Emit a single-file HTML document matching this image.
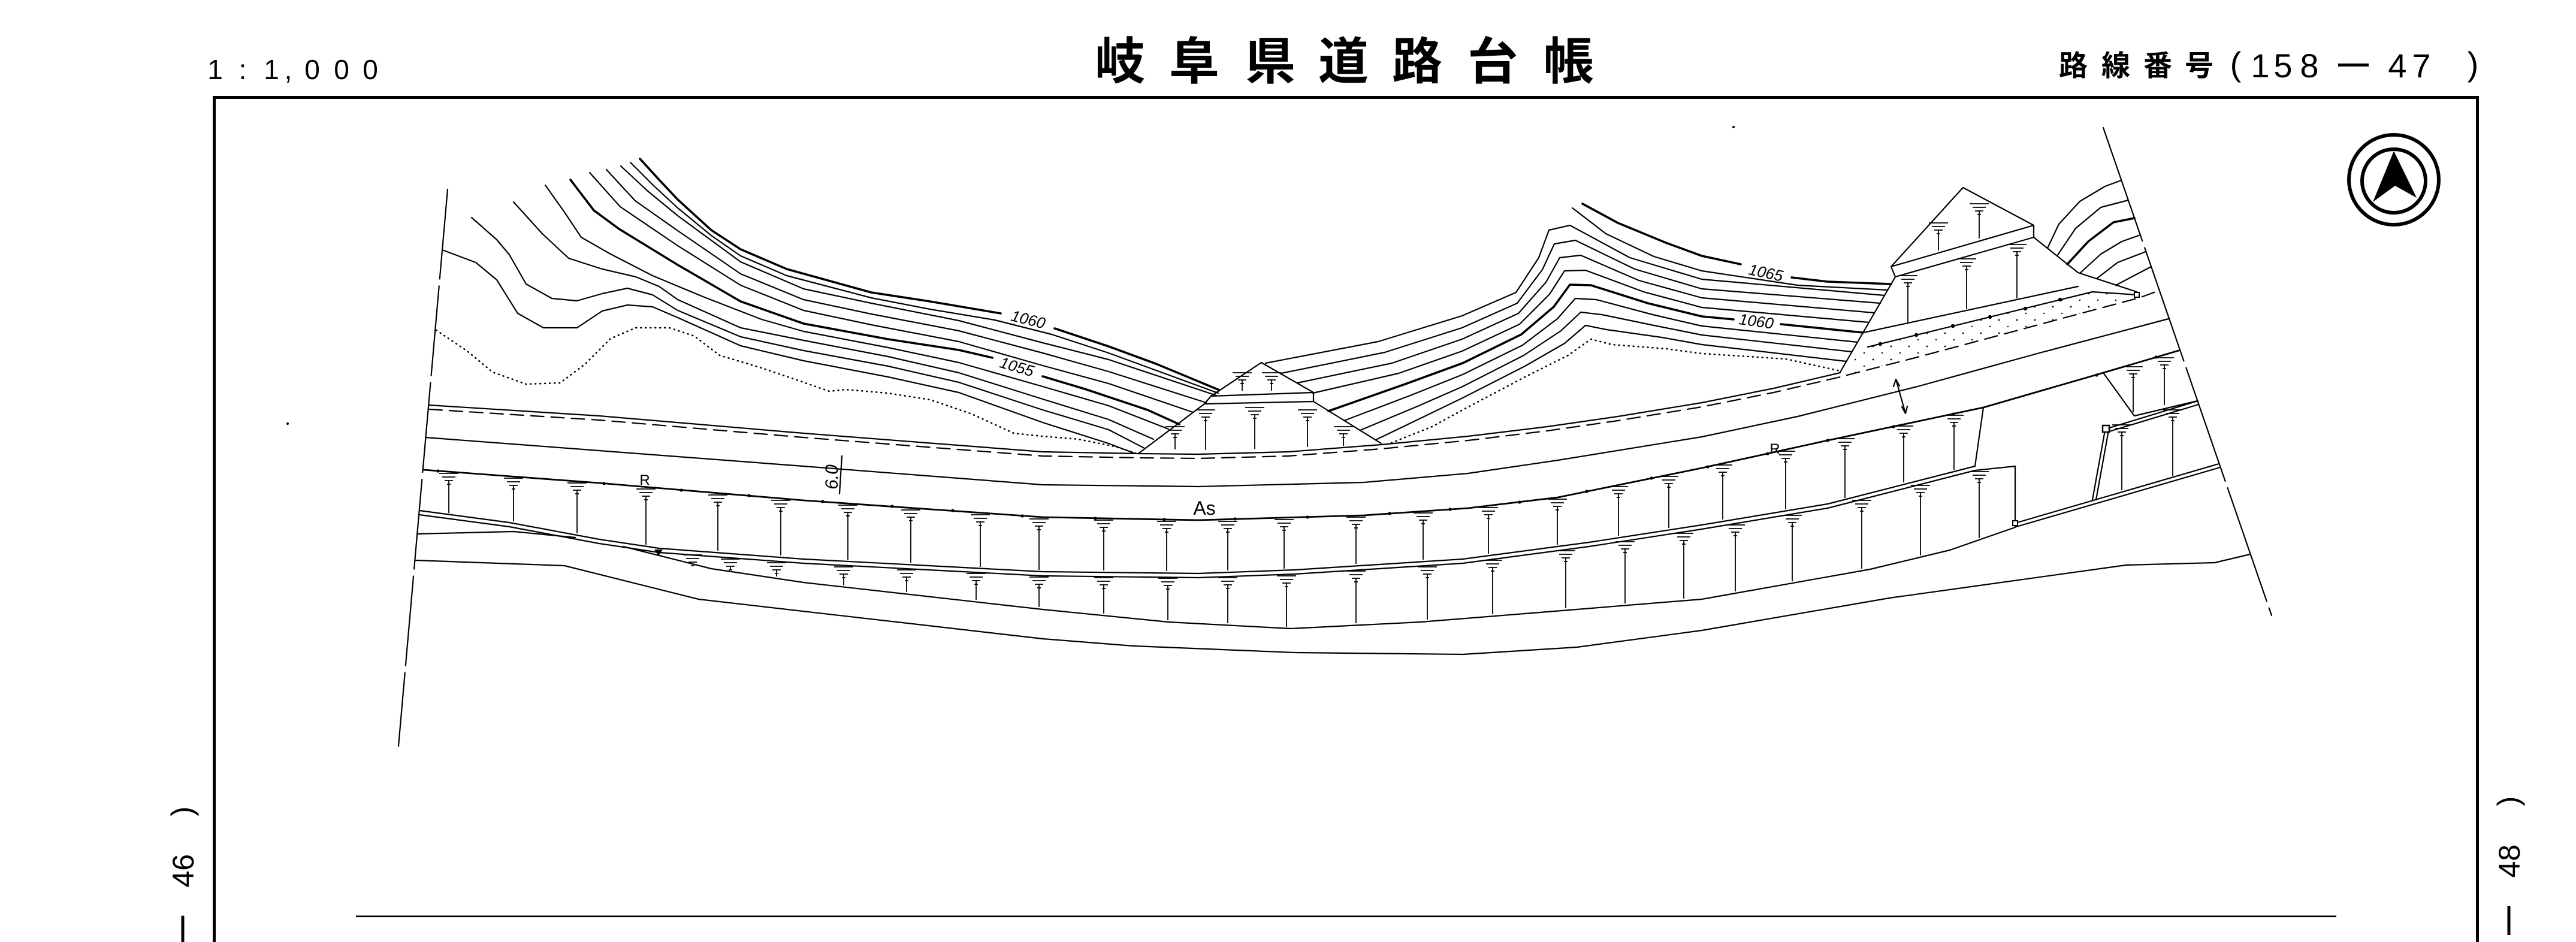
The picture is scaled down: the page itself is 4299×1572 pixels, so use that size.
<!DOCTYPE html>
<html><head><meta charset="utf-8">
<style>
html,body{margin:0;padding:0;background:#fff;width:4299px;height:1572px;overflow:hidden}
svg{display:block}
</style></head>
<body>
<svg xmlns="http://www.w3.org/2000/svg" width="4299" height="1572" viewBox="0 0 4299 1572">
<defs>
  <g id="s" fill="none" stroke="#000" stroke-width="1.7"><path d="M-16,0h32M-11,6h22M-7,12h14M-3,18h6"/></g>
  <pattern id="dots" width="30" height="22" patternUnits="userSpaceOnUse"><circle cx="6" cy="6" r="1.4" fill="#000"/><circle cx="21" cy="17" r="1.2" fill="#000"/></pattern>
</defs>
<rect width="4299" height="1572" fill="#fff"/>

<!-- Header -->
<g font-family="'Liberation Sans','Noto Sans CJK JP',sans-serif" fill="#000">
  <g font-size="46" text-anchor="middle">
    <text x="359" y="132">1</text><text x="405" y="132">:</text><text x="453" y="132">1</text>
    <text x="481" y="132">,</text><text x="521" y="132">0</text><text x="570" y="132">0</text><text x="618" y="132">0</text>
  </g>
  <g font-family="'Noto Sans CJK JP','WenQuanYi Zen Hei',sans-serif" font-size="84" font-weight="bold" text-anchor="middle">
    <text x="1869" y="132">岐</text><text x="1993" y="132">阜</text><text x="2120" y="132">県</text>
    <text x="2242" y="132">道</text><text x="2365" y="132">路</text><text x="2491" y="132">台</text><text x="2618" y="132">帳</text>
  </g>
  <g font-family="'Noto Sans CJK JP','WenQuanYi Zen Hei',sans-serif" font-size="48" font-weight="bold" text-anchor="middle">
    <text x="3460" y="126">路</text><text x="3531" y="126">線</text><text x="3601" y="126">番</text><text x="3670" y="126">号</text>
  </g>
  <g font-size="56" text-anchor="middle">
    <text x="3731" y="126">(</text><text x="3772" y="129">1</text><text x="3810" y="129">5</text><text x="3854" y="129">8</text>
    <text x="4001" y="129">4</text><text x="4041" y="129">7</text><text x="4127" y="126">)</text>
  </g>
  <rect x="3902" y="106" width="51" height="5"/>
</g>

<!-- Frame -->
<rect x="355" y="160" width="3782" height="5" fill="#000"/>
<rect x="355" y="160" width="5" height="1412" fill="#000"/>
<rect x="4132" y="160" width="5" height="1412" fill="#000"/>
<line x1="594" y1="1529" x2="3899" y2="1529" stroke="#000" stroke-width="2.5"/>

<!-- Side labels -->
<g font-family="'Liberation Sans',sans-serif" font-size="50" fill="#000" text-anchor="middle">
  <text transform="translate(305,1453) rotate(-90)" y="18">46</text>
  <text transform="translate(305,1354) rotate(-90)" y="16">)</text>
  <text transform="translate(4187,1437) rotate(-90)" y="18">48</text>
  <text transform="translate(4187,1337) rotate(-90)" y="16">)</text>
</g>
<line x1="305" y1="1528" x2="305" y2="1572" stroke="#000" stroke-width="5"/>
<line x1="4187" y1="1512" x2="4187" y2="1560" stroke="#000" stroke-width="5"/>

<!-- North arrow -->
<circle cx="3995" cy="300" r="75" fill="none" stroke="#000" stroke-width="6"/>
<circle cx="3995" cy="302" r="53" fill="none" stroke="#000" stroke-width="6"/>
<polygon points="3995,252 3960,337 3997,310 4033,330" fill="#000"/>

<!-- Drawing -->
<g fill="none" stroke="#000" stroke-width="2.2" stroke-linejoin="round" stroke-linecap="round">
  <!-- boundaries -->
  <path d="M747,316 L665,1245" stroke-dasharray="150 12"/>
  <path d="M3510,213 L3791,1027" stroke-dasharray="200 12"/>

  <!-- left contour group -->
  <polyline stroke-width="3.6" points="1068,265 1100,300 1131,333 1187,384 1236,416 1313,449 1454,488 1552,503 1670,523"/>
  <polyline stroke-width="3.6" points="1760,548 1850,578 1929,607 2035,651"/>
  <polyline points="1052,271 1090,309 1131,347 1187,393 1236,427 1313,460 1454,497 1552,516 1660,534 1755,558 1850,589 2033,656"/>
  <polyline points="1036,277 1080,318 1131,360 1236,437 1341,482 1454,506 1600,535 1740,572 1850,600 2030,660"/>
  <polyline points="1012,283 1060,335 1131,385 1236,457 1341,500 1454,524 1600,552 1740,589 1850,620 2013,672"/>
  <polyline points="984,288 1035,345 1131,410 1236,476 1341,518 1454,542 1600,570 1740,610 1850,640 1991,688"/>
  <polyline stroke-width="3.6" points="952,300 991,351 1033,382 1131,442 1236,503 1341,540 1482,566 1600,584 1656,597"/>
  <polyline stroke-width="3.6" points="1740,628 1810,649 1915,684 1968,708"/>
  <polyline points="910,309 942,354 970,396 1019,424 1089,460 1173,495 1271,533 1341,553 1482,580 1600,605 1740,645 1850,677 1950,716"/>
  <polyline points="857,337 905,390 949,431 1005,449 1061,462 1100,478 1131,500 1236,547 1341,568 1482,595 1600,622 1740,666 1850,700 1925,733"/>
  <polyline points="787,363 829,400 850,425 878,474 921,498 963,502 1005,490 1047,481 1089,492 1131,518 1236,562 1341,585 1482,611 1600,638 1740,684 1850,717 1910,748"/>
  <polyline points="738,417 794,438 829,467 864,523 907,547 963,547 1005,519 1047,509 1089,512 1131,530 1236,577 1341,602 1482,629 1600,655 1740,705 1850,740 1892,756"/>
  <polyline stroke-width="2.6" stroke-dasharray="1 7" points="728,551 780,586 822,621 878,641 935,639 977,607 1019,565 1061,547 1117,547 1159,561 1201,593 1271,614 1341,638 1384,653 1411,650 1481,656 1552,667 1622,691 1692,723 1740,728 1800,733 1860,745 1895,756"/>

  <!-- right contour group -->
  <polyline stroke-width="3.6" points="2641,340 2700,372 2780,405 2840,427 2905,441"/>
  <polyline stroke-width="3.6" points="2990,463 3050,470 3156,474"/>
  <polyline points="2624,347 2680,390 2760,428 2840,452 3000,476 3150,484"/>
  <polyline points="2112,606 2300,570 2440,527 2530,488 2568,430 2585,384 2620,376 2720,430 2840,466 3145,493"/>
  <polyline points="2138,623 2311,588 2440,547 2532,506 2574,450 2594,407 2629,401 2728,449 2840,482 3138,506"/>
  <polyline points="2165,639 2323,606 2440,566 2534,523 2580,471 2603,430 2638,426 2735,468 2840,497 3128,522"/>
  <polyline points="2191,656 2334,623 2440,586 2536,541 2586,491 2611,452 2646,451 2743,487 2840,513 3119,538"/>
  <polyline stroke-width="3.6" points="2217,686 2345,641 2441,606 2539,558 2593,512 2620,475 2655,476 2750,506 2840,528 2893,533"/>
  <polyline stroke-width="3.6" points="2972,541 3109,555"/>
  <polyline points="2243,702 2356,659 2441,625 2541,576 2599,532 2629,498 2664,500 2758,525 2840,544 3100,571"/>
  <polyline points="2270,718 2368,677 2441,645 2543,593 2605,552 2638,521 2673,525 2765,544 2840,559 3090,587"/>
  <polyline points="2296,734 2379,694 2441,664 2545,611 2611,573 2646,543 2681,550 2773,563 2840,575 3081,603"/>
  <polyline stroke-width="2.6" stroke-dasharray="1 7" points="2322,739 2390,712 2441,684 2547,628 2617,593 2655,566 2690,575 2780,582 2840,590 2980,599 3071,619"/>

  <!-- arcs near right boundary -->
  <polyline points="3417,414 3436,374 3471,336 3513,311 3540,301"/>
  <polyline points="3433,427 3464,381 3506,346 3552,334"/>
  <polyline stroke-width="3.6" points="3450,441 3485,403 3527,371 3562,364"/>
  <polyline points="3471,456 3506,424 3541,403 3572,392"/>
  <polyline points="3499,465 3534,438 3581,420"/>
  <polyline points="3531,476 3590,445"/>

  <!-- road -->
  <polyline points="716,676 1000,694 1341,723 1740,754 1901,757 2000,758 2150,754 2305,742 2450,728 2582,712 2700,695 2840,672 2960,648 3071,622"/>
  <polyline stroke-dasharray="22 12" points="716,683 1000,701 1341,730 1740,761 1901,764 2000,765 2150,761 2305,749 2450,735 2582,719 2700,702 2840,679 2960,655 3071,629 3200,596 3331,561 3450,529 3570,497 3606,484"/>
  <polyline points="710,730 1000,752 1341,778 1740,809 2000,812 2276,805 2450,790 2600,768 2840,729 3000,695 3200,645 3400,590 3619,532"/>
  <polyline stroke-width="2.8" points="707,784 1000,806 1341,835 1740,863 2000,868 2276,860 2450,848 2600,830 2840,781 3050,735 3310,680 3500,625 3636,585"/>
  <polyline points="700,852 850,872 1000,900 1100,915 1341,933 1740,954 2000,957 2161,951 2441,933 2652,905 2840,876 3050,841 3296,778"/>
  <polyline points="700,859 850,879 1000,907 1100,922 1341,940 1740,961 2000,964 2161,958 2441,940 2652,912 2840,883 3050,848 3296,785 3363,778"/>
  <polyline points="1040,912 1187,949 1341,972 1740,1017 1950,1038 2154,1049 2371,1038 2582,1021 2840,1000 3121,950 3254,918 3363,880 3363,778"/>
  <polyline points="693,935 942,944 1166,1000 1740,1066 1892,1078 2161,1089 2441,1092 2632,1080 2840,1052 3153,998 3548,943 3696,939 3755,925"/>
  <polyline points="696,891 857,887 960,897"/>
  <path d="M3310,680 L3296,778"/>

  <!-- central triangle structure -->
  <path d="M1901,756 L2010,674 L2021,661 L2105,605 L2192,655 L2192,670 L2305,740"/>
  <path d="M2021,661 L2192,655 M2010,674 L2192,670"/>

  <!-- big right structure -->
  <path d="M3156,445 L3276,313 L3394,376 L3394,396"/>
  <path d="M3156,445 L3394,376"/>
  <path d="M3156,445 L3163,462 L3394,396"/>
  <path d="M3163,462 L3071,621"/>
  <path d="M3394,396 L3468,455 L3566,487"/>
  <path d="M3110,555 L3468,478"/>
  <path d="M3117,579 L3492,487 L3566,492"/>

  <!-- right blocks -->
  <path d="M3510,622 L3562,694 L3667,669"/>
  <path d="M3517,715 L3668,669 M3517,721 L3669,675"/>
  <path d="M3513,718 L3492,834 M3519,718 L3498,834"/>
  <path d="M3363,873 L3703,774 M3365,879 L3705,780"/>

  <!-- dimension lines -->
  <path d="M3164,633 L3180,690 M3160,645 L3164,633 L3170,644 M3174,679 L3180,690 L3183,678"/>
  <path d="M1405,761 L1401,824"/>
</g>

<!-- dotted area -->
<polygon points="3080,614 3117,579 3492,487 3566,492 3570,497 3071,629" fill="url(#dots)"/>
<rect x="3359" y="869" width="8" height="8" fill="#fff" stroke="#000" stroke-width="2"/>
<rect x="3509" y="710" width="11" height="11" fill="#fff" stroke="#000" stroke-width="2.5"/>
<rect x="3562" y="488" width="8" height="8" fill="#fff" stroke="#000" stroke-width="2"/>

<!-- beads -->
<g fill="#000">
  <circle cx="731" cy="786" r="2.6"/><circle cx="1008" cy="807" r="2.6"/><circle cx="1137" cy="818" r="2.6"/><circle cx="1250" cy="827" r="2.6"/>
  <circle cx="1373" cy="837" r="2.6"/><circle cx="1489" cy="845" r="2.6"/><circle cx="1590" cy="852" r="2.6"/><circle cx="1706" cy="861" r="2.6"/>
  <circle cx="1828" cy="865" r="2.6"/><circle cx="1943" cy="867" r="2.6"/><circle cx="2061" cy="866" r="2.6"/><circle cx="2182" cy="863" r="2.6"/>
  <circle cx="2319" cy="857" r="2.6"/><circle cx="2420" cy="850" r="2.6"/><circle cx="2536" cy="838" r="2.6"/><circle cx="2648" cy="820" r="2.6"/>
  <circle cx="2756" cy="798" r="2.6"/><circle cx="2850" cy="779" r="2.6"/><circle cx="2950" cy="757" r="2.6"/><circle cx="3050" cy="735" r="2.6"/>
  <circle cx="3160" cy="712" r="2.6"/><circle cx="3260" cy="691" r="2.6"/><circle cx="3499" cy="626" r="2.6"/><circle cx="3598" cy="596" r="2.6"/>
  <circle cx="3138" cy="574" r="3.2"/><circle cx="3198" cy="559" r="3.2"/><circle cx="3259" cy="544" r="3.2"/><circle cx="3321" cy="529" r="3.2"/>
  <circle cx="3380" cy="515" r="3.2"/><circle cx="3438" cy="500" r="3.2"/>
  <circle cx="480" cy="707" r="2"/><circle cx="2893" cy="212" r="2"/>
  <polygon points="1092,917 1106,917 1099,928"/>
</g>

<!-- slope symbols row 1 -->
<g>
  <use href="#s" x="749" y="790"/><use href="#s" x="857" y="798"/><use href="#s" x="963" y="806"/><use href="#s" x="1078" y="816"/>
  <use href="#s" x="1198" y="826"/><use href="#s" x="1303" y="835"/><use href="#s" x="1415" y="843"/><use href="#s" x="1520" y="851"/>
  <use href="#s" x="1636" y="859"/><use href="#s" x="1734" y="866"/><use href="#s" x="1842" y="868"/><use href="#s" x="1947" y="870"/>
  <use href="#s" x="2049" y="870"/><use href="#s" x="2143" y="867"/><use href="#s" x="2263" y="863"/><use href="#s" x="2375" y="856"/>
  <use href="#s" x="2484" y="847"/><use href="#s" x="2599" y="833"/><use href="#s" x="2701" y="812"/><use href="#s" x="2785" y="795"/>
  <use href="#s" x="2875" y="776"/><use href="#s" x="2980" y="753"/><use href="#s" x="3079" y="732"/><use href="#s" x="3177" y="711"/>
  <use href="#s" x="3261" y="693"/>
</g>
<path fill="none" stroke="#000" stroke-width="1.8" d="M749,801V856M857,809V870M963,817V890M1078,827V909M1198,837V919M1303,846V927M1415,854V934M1520,862V939M1636,870V946M1734,877V951M1842,879V952M1947,881V953M2049,881V952M2143,878V949M2263,874V941M2375,867V934M2484,858V924M2599,844V909M2701,823V894M2785,806V881M2875,787V867M2980,764V850M3079,743V831M3177,722V805M3261,704V784"/>

<!-- slope symbols row 2 -->
<g>
  <use href="#s" x="1219" y="933"/><use href="#s" x="1296" y="939"/><use href="#s" x="1408" y="946"/><use href="#s" x="1513" y="951"/>
  <use href="#s" x="1629" y="957"/><use href="#s" x="1734" y="963"/><use href="#s" x="1842" y="964"/><use href="#s" x="1949" y="965"/>
  <use href="#s" x="2049" y="964"/><use href="#s" x="2147" y="961"/><use href="#s" x="2263" y="953"/><use href="#s" x="2382" y="946"/>
  <use href="#s" x="2491" y="935"/><use href="#s" x="2613" y="919"/><use href="#s" x="2712" y="904"/><use href="#s" x="2810" y="890"/>
  <use href="#s" x="2896" y="876"/><use href="#s" x="2991" y="860"/><use href="#s" x="3107" y="835"/><use href="#s" x="3205" y="810"/>
  <use href="#s" x="3303" y="787"/><use href="#s" x="1156" y="926"/>
</g>
<path fill="none" stroke="#000" stroke-width="1.8" d="M1219,944V951M1296,950V962M1408,957V977M1513,962V988M1629,968V1001M1734,974V1013M1842,975V1024M1949,976V1035M2049,975V1040M2147,972V1046M2263,964V1040M2382,957V1034M2491,946V1025M2613,930V1015M2712,915V1007M2810,901V999M2896,887V987M2991,871V970M3107,846V949M3205,821V927M3303,798V898"/>

<!-- structure symbols -->
<g>
  <use href="#s" x="2073" y="622"/><use href="#s" x="2122" y="622"/>
  <use href="#s" x="1961" y="712"/><use href="#s" x="2012" y="684"/><use href="#s" x="2094" y="680"/><use href="#s" x="2182" y="684"/><use href="#s" x="2242" y="712"/>
  <use href="#s" x="3303" y="340"/><use href="#s" x="3235" y="372"/>
  <use href="#s" x="3184" y="460"/><use href="#s" x="3282" y="432"/><use href="#s" x="3366" y="408"/>
  <use href="#s" x="3560" y="612"/><use href="#s" x="3612" y="597"/>
  <use href="#s" x="3541" y="709"/><use href="#s" x="3626" y="684"/>
</g>
<path fill="none" stroke="#000" stroke-width="1.8" d="M2073,633V652M2122,633V652M1961,723V750M2012,695V751M2094,691V749M2182,695V746M2242,723V744M3303,351V398M3235,383V418M3184,471V538M3282,443V516M3366,419V498M3560,623V688M3612,608V676M3541,720V818M3626,695V794"/>

<!-- labels in drawing -->
<g font-family="'Liberation Sans',sans-serif" fill="#000">
  <text x="1076" y="809" font-size="24" text-anchor="middle">R</text>
  <text x="2962" y="757" font-size="24" text-anchor="middle">R</text>
  <text x="2010" y="859" font-size="32" text-anchor="middle">As</text>
  <text transform="translate(1388,796) rotate(-90)" y="10" font-size="30" font-style="italic" text-anchor="middle">6.0</text>
  <g font-size="26" font-style="italic" text-anchor="middle">
    <text transform="translate(1716,533) rotate(14)" y="9">1060</text>
    <text transform="translate(1697,612) rotate(16)" y="9">1055</text>
    <text transform="translate(2947,455) rotate(12)" y="9">1065</text>
    <text transform="translate(2931,536) rotate(8)" y="9">1060</text>
  </g>
</g>
</svg>
</body></html>
